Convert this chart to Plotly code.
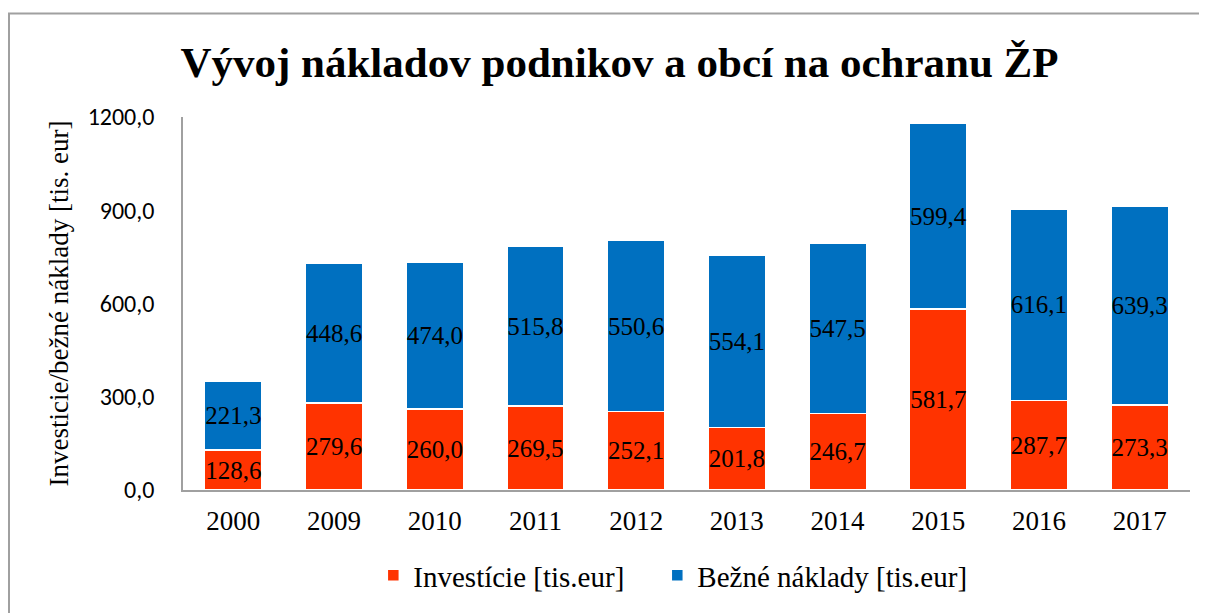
import plotly.graph_objects as go

years = ["2000", "2009", "2010", "2011", "2012", "2013", "2014", "2015", "2016", "2017"]
investicie = [128.6, 279.6, 260.0, 269.5, 252.1, 201.8, 246.7, 581.7, 287.7, 273.3]
bezne = [221.3, 448.6, 474.0, 515.8, 550.6, 554.1, 547.5, 599.4, 616.1, 639.3]
y_ticks = [0, 300, 600, 900, 1200]

SERIF = "Liberation Serif, Times New Roman, serif"
SANS = "Carlito, Open Sans, Noto Sans, sans-serif"


def fmt(v):
    return f"{v:.1f}".replace(".", ",")


fig = go.Figure()
for name, vals, color, leg in [
    ("Investície [tis.eur]", investicie, "#FF3300", "legend"),
    ("Bežné náklady [tis.eur]", bezne, "#0070C0", "legend2"),
]:
    fig.add_trace(go.Bar(
        x=years, y=vals, name=name, legend=leg, showlegend=True,
        marker=dict(color=color, line=dict(color="white", width=1.5)),
        text=[fmt(v) for v in vals],
        textposition="inside", insidetextanchor="middle", textangle=0,
        textfont=dict(family=SERIF, size=25, color="black"),
        constraintext="none",
    ))

legend_style = dict(orientation="h", xanchor="left", y=-0.229, yanchor="middle",
                    font=dict(family=SERIF, size=29, color="black"))

# page has an 8px body margin, so the figure is shrunk by that much
fig.update_layout(
    barmode="stack", bargap=0.43,
    width=1199, height=605,
    margin=dict(l=175, r=17, t=109, b=121),
    paper_bgcolor="white", plot_bgcolor="white",
    separators=",.",
    showlegend=True,
    uniformtext=dict(mode="show", minsize=25),
    title=dict(text="<b>Vývoj nákladov podnikov a obcí na ochranu ŽP</b>",
               x=0.51, xanchor="center", y=0.911, yanchor="middle",
               font=dict(family=SERIF, size=43, color="black")),
    legend=dict(x=0.189, **legend_style),
    legend2=dict(x=0.471, **legend_style),
    shapes=[dict(type="rect", xref="paper", yref="paper",
                 x0=(9 - 183) / 1007, x1=(1200 - 183) / 1007,
                 y0=(492 - 640) / 375, y1=(492 - 13) / 375,
                 line=dict(color="#A0A0A0", width=2), layer="below")],
)
fig.update_xaxes(
    showline=True, linecolor="#A0A0A0", linewidth=2,
    tickfont=dict(family=SERIF, size=27, color="black"),
    ticks="", showgrid=False, ticklabelstandoff=6,
)
fig.update_yaxes(
    range=[0, 1200], tickvals=y_ticks, tickformat=".1f",
    showline=True, linecolor="#A0A0A0", linewidth=1.5, showgrid=False,
    ticks="", ticklabelstandoff=22,
    tickfont=dict(family=SANS, size=24, color="black"),
    title=dict(text="Investicie/bežné náklady [tis. eur]", standoff=11,
               font=dict(family=SERIF, size=27, color="black")),
)

fig.write_html("out.html")
